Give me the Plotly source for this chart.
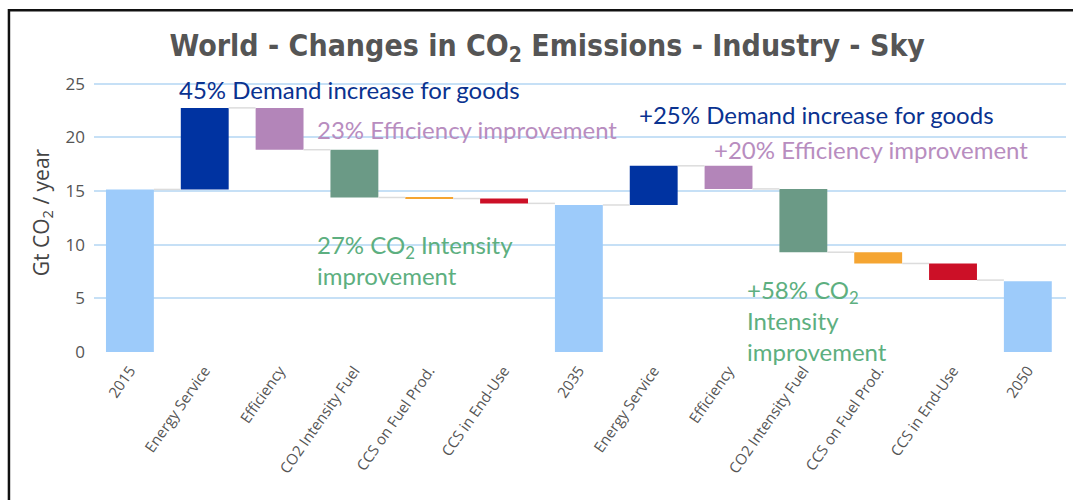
import plotly.graph_objects as go

# ---- data ----
categories = ["2015", "Energy Service", "Efficiency", "CO2 Intensity Fuel", "CCS on Fuel Prod.",
              "CCS in End-Use", "2035", "Energy Service", "Efficiency", "CO2 Intensity Fuel",
              "CCS on Fuel Prod.", "CCS in End-Use", "2050"]
# value for totals, change for steps (Gt CO2 / year)
kinds = ["total", "step", "step", "step", "step", "step", "total",
         "step", "step", "step", "step", "step", "total"]
values = [15.15, 7.6, -3.9, -4.45, -0.1, -0.45, 13.7,
          3.65, -2.15, -5.9, -1.05, -1.55, 6.6]
colors = ["#9dcbfa", "#0033a1", "#b385b9", "#6b9a86", "#f5a532", "#cc1027", "#9dcbfa",
          "#0033a1", "#b385b9", "#6b9a86", "#f5a532", "#cc1027", "#9dcbfa"]
tick_labels = categories
y_ticks = [0, 5, 10, 15, 20, 25]

# ---- derive bases ----
bases, heights, levels = [], [], []
running = 0.0
for k, v in zip(kinds, values):
    if k == "total":
        bases.append(0.0)
        heights.append(v)
        running = v
    else:
        if v >= 0:
            bases.append(running)
            heights.append(v)
        else:
            bases.append(running + v)
            heights.append(-v)
        running = running + v
    levels.append(running)

xs = list(range(len(categories)))
bar_w = 0.64

fig = go.Figure()

# connectors
cx, cy = [], []
for i in range(len(xs) - 1):
    cx += [xs[i] + bar_w / 2, xs[i + 1] - bar_w / 2, None]
    cy += [levels[i], levels[i], None]
fig.add_trace(go.Scatter(x=cx, y=cy, mode="lines", line=dict(color="#dcdcdc", width=1.5),
                         hoverinfo="skip", showlegend=False))

fig.add_trace(go.Bar(x=xs, y=heights, base=bases, width=bar_w,
                     marker=dict(color=colors, line=dict(width=0)), showlegend=False))

ann_font = "Lato, 'Open Sans', sans-serif"
annots = [
    dict(x=0.63, y=24.45, text="45% Demand increase for goods", color="#0a3290"),
    dict(x=2.47, y=20.7, text="23% Efficiency improvement", color="#b88dbf"),
    dict(x=2.47, y=8.6, text="27% CO<sub>2</sub> Intensity<br>improvement", color="#5daf80"),
    dict(x=6.78, y=22.1, text="+25% Demand increase for goods", color="#0a3290"),
    dict(x=7.78, y=18.85, text="+20% Efficiency improvement", color="#b88dbf"),
    dict(x=8.22, y=2.9, text="+58% CO<sub>2</sub><br>Intensity<br>improvement", color="#5daf80"),
]
for a in annots:
    fig.add_annotation(x=a["x"], y=a["y"], xref="x", yref="y", text=a["text"],
                       showarrow=False, xanchor="left", yanchor="middle", align="left",
                       font=dict(family=ann_font, size=24, color=a["color"]))

# outer frame
fig.add_shape(type="rect", xref="paper", yref="paper", x0=-0.0875, x1=1.2, y0=-0.7, y1=1.225,
              line=dict(color="#111111", width=2.5), fillcolor="rgba(0,0,0,0)", layer="above")

fig.update_layout(
    width=1073, height=500,
    margin=dict(l=94, r=7, t=73, b=148),
    paper_bgcolor="white", plot_bgcolor="white",
    title=dict(text="<b>World - Changes in CO<sub>2</sub> Emissions - Industry - Sky</b>",
               x=0.51, xanchor="center", y=0.91, yanchor="middle",
               font=dict(family="'DejaVu Sans Condensed', 'DejaVu Sans', sans-serif", size=30, color="#555555")),
    bargap=0.36,
    xaxis=dict(tickmode="array", tickvals=xs, ticktext=tick_labels, tickangle=-55,
               range=[-0.48, 12.51], showgrid=False, zeroline=False, showline=False,
               ticklabelstandoff=6,
               tickfont=dict(family="'Open Sans', sans-serif", size=15, color="#555555")),
    yaxis=dict(range=[0, 26], tickvals=y_ticks, showgrid=True, gridcolor="#c6e0f6", gridwidth=1.5,
               zeroline=False, showline=False, ticklabelstandoff=8,
               tickfont=dict(family="'Open Sans', sans-serif", size=17, color="#555555"),
               title=dict(text="Gt CO<sub>2</sub> / year", standoff=10,
                          font=dict(family="'Open Sans', sans-serif", size=21, color="#444444"))),
)

fig.write_html("out.html")
